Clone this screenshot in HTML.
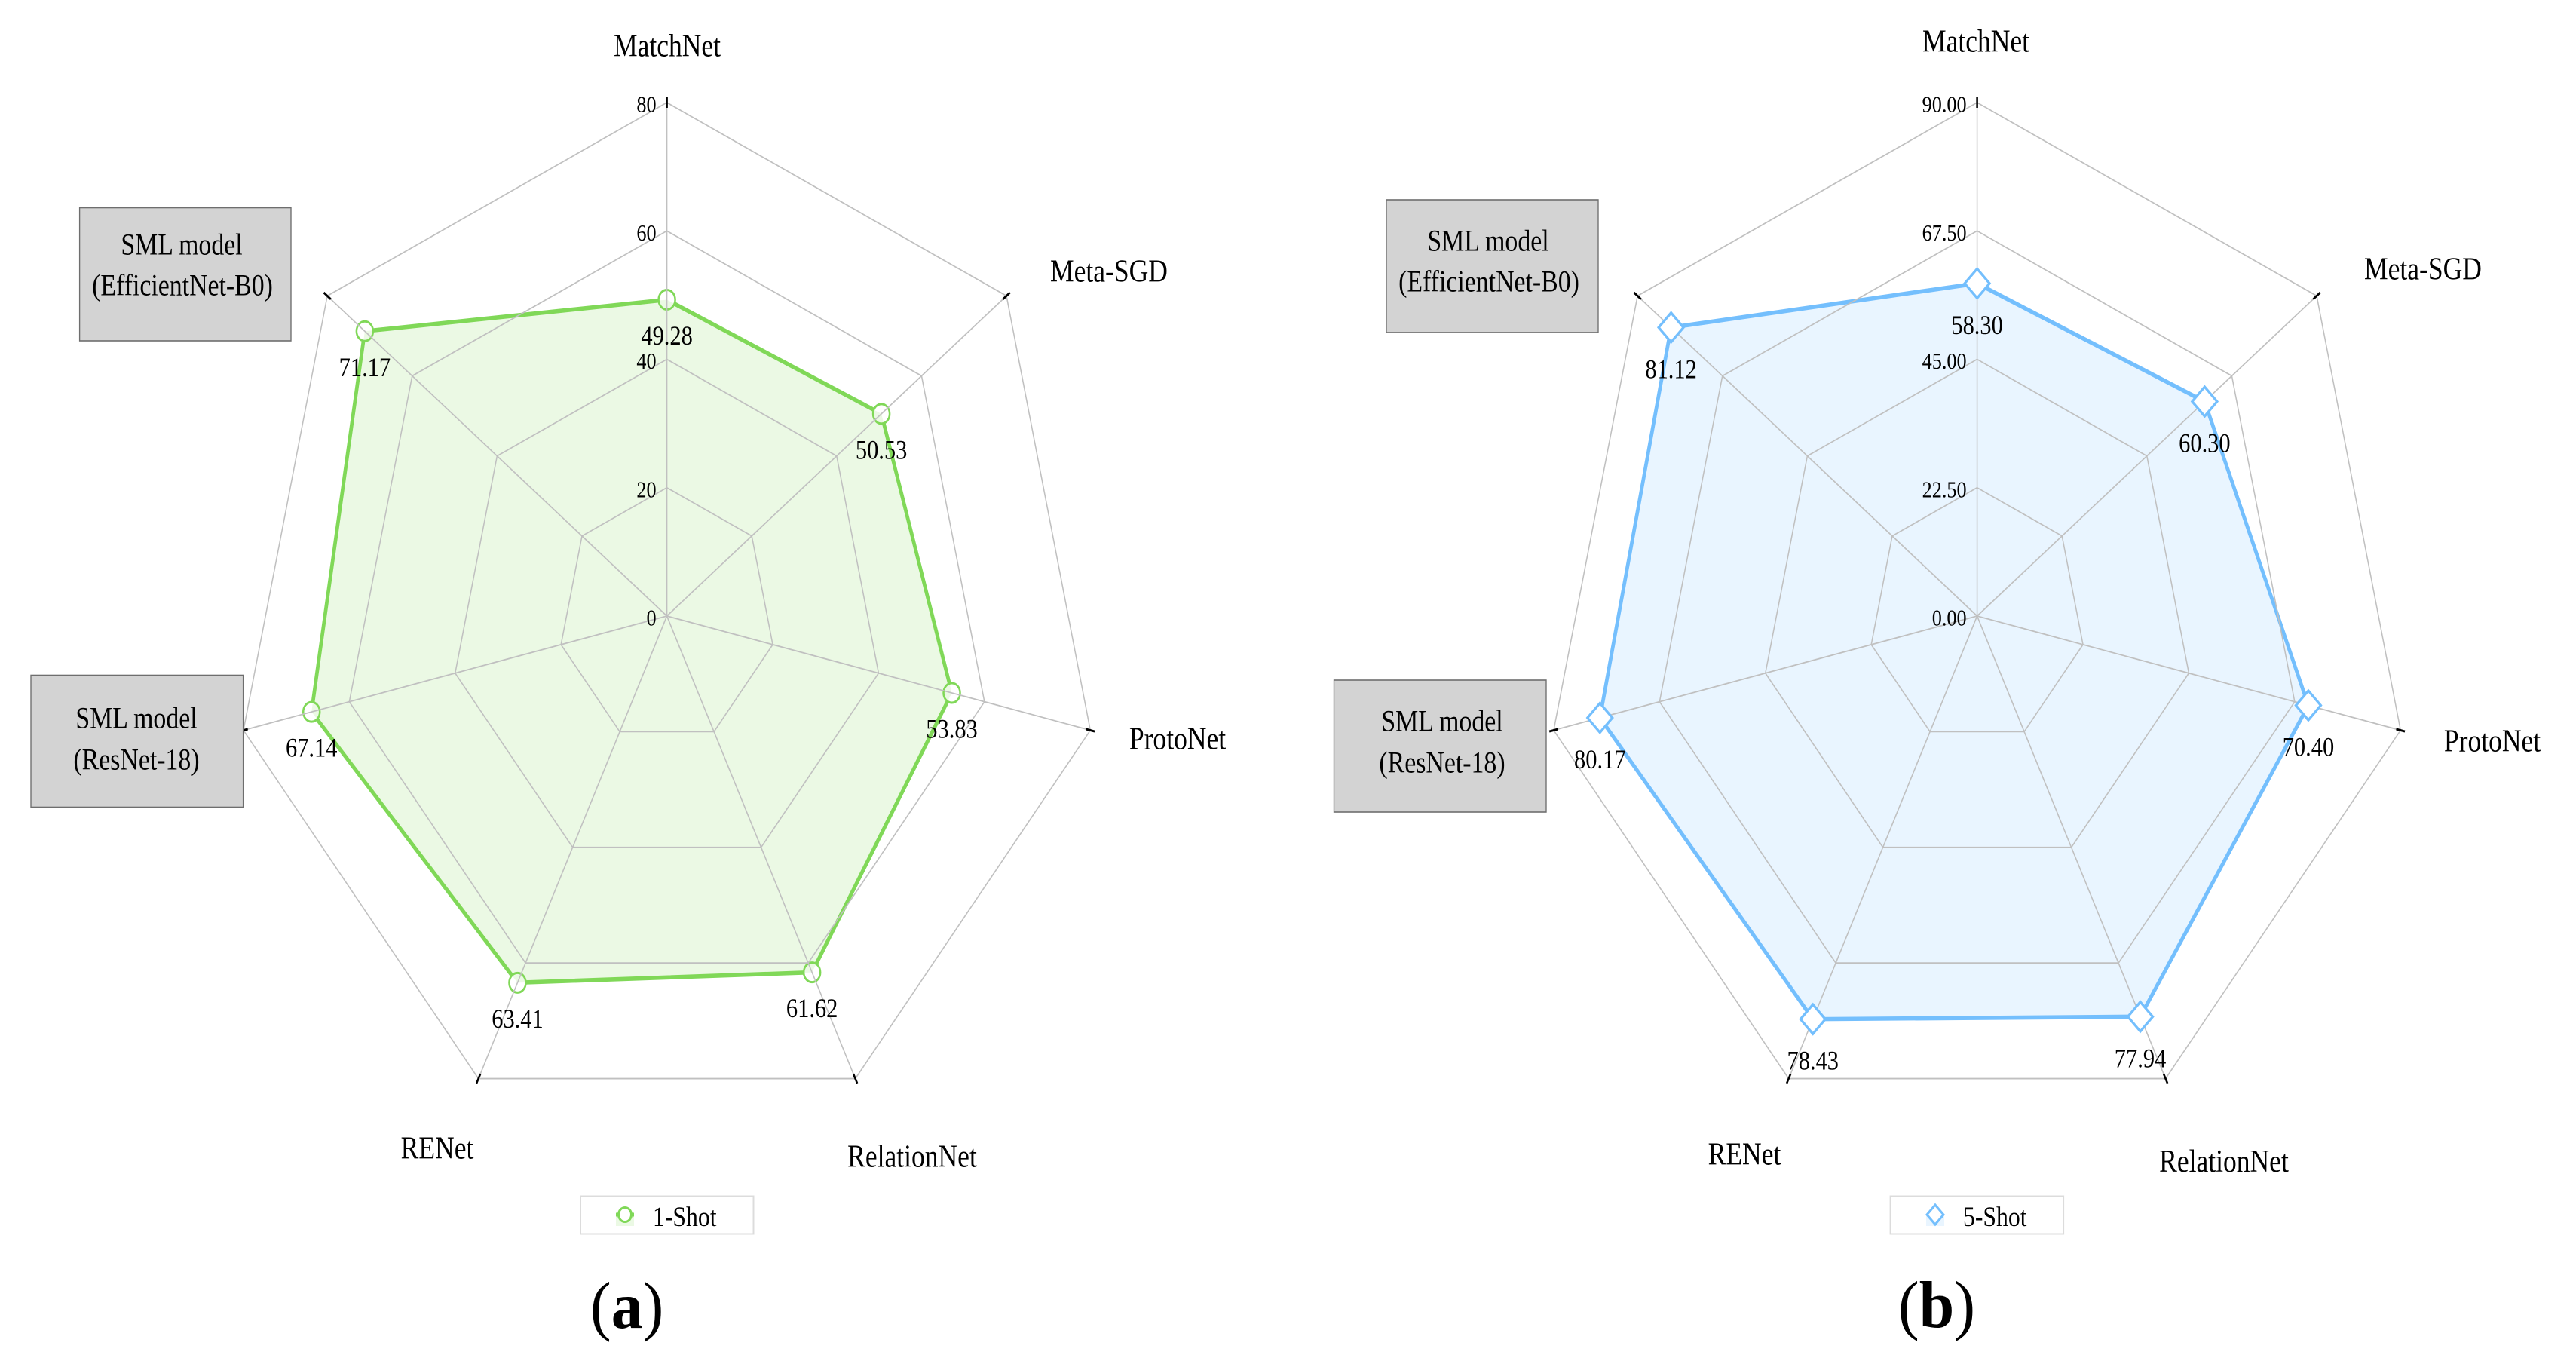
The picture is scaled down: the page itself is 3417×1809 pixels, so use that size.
<!DOCTYPE html>
<html lang="en">
<head>
<meta charset="utf-8">
<title>Radar charts: 1-Shot and 5-Shot accuracy</title>
<style>
html,body{margin:0;padding:0;background:#fff;}
svg{display:block;font-family:"Liberation Serif",serif;fill:#000;}
</style>
</head>
<body>
<svg id="figure" xmlns="http://www.w3.org/2000/svg" width="3417" height="1809" viewBox="0 0 3417 1809">
<rect x="0" y="0" width="3417" height="1809" fill="#fff"/>
</svg>
<script>
const categories = ['MatchNet', 'Meta-SGD', 'ProtoNet', 'RelationNet', 'RENet', 'SML model|(ResNet-18)', 'SML model|(EfficientNet-B0)'];
const oneShotValues = [49.28, 50.53, 53.83, 61.62, 63.41, 67.14, 71.17];
const fiveShotValues = [58.30, 60.30, 70.40, 77.94, 78.43, 80.17, 81.12];
const oneShotTicks = [0, 20, 40, 60, 80];
const fiveShotTicks = [0, 22.5, 45, 67.5, 90];
const oneShotTickLabels = ['0', '20', '40', '60', '80'];
const fiveShotTickLabels = ['0.00', '22.50', '45.00', '67.50', '90.00'];

const svg = document.getElementById('figure');
const NS = 'http://www.w3.org/2000/svg';
const RADIUS = 681;
const SQUEEZE = 0.846;

function make(parent, tag, attrs) {
  const el = document.createElementNS(NS, tag);
  for (const k in attrs) el.setAttribute(k, attrs[k]);
  parent.appendChild(el);
  return el;
}

function drawRadar(cfg) {
  const n = categories.length;
  const axisMax = cfg.ticks[cfg.ticks.length - 1];
  const rScale = v => (v / axisMax) * RADIUS;
  const axisX = (i, v) => rScale(v) * Math.sin(i * 2 * Math.PI / n);
  const axisY = (i, v) => -rScale(v) * Math.cos(i * 2 * Math.PI / n);
  const gx = x => (x - cfg.cx) / SQUEEZE;
  const gy = y => y - cfg.cy;
  const ringPoints = v => categories.map((c, i) => axisX(i, v).toFixed(2) + ',' + axisY(i, v).toFixed(2)).join(' ');

  const g = make(svg, 'g', {transform: 'translate(' + cfg.cx + ' ' + cfg.cy + ') scale(' + SQUEEZE + ' 1)'});
  
  

  const seriesPoints = cfg.values.map((v, i) => axisX(i, v).toFixed(2) + ',' + axisY(i, v).toFixed(2)).join(' ');

  const drawMarkers = () => {
    cfg.values.forEach((v, i) => {
      const x = axisX(i, v), y = axisY(i, v);
      let m;
      if (cfg.marker === 'circle') {
        m = make(g, 'circle', {cx: x, cy: y, r: 13, fill: '#fff', stroke: cfg.color, 'stroke-width': 3});
      } else {
        m = make(g, 'polygon', {
          points: x + ',' + (y - 19.5) + ' ' + (x + 19.5) + ',' + y + ' ' + x + ',' + (y + 19.5) + ' ' + (x - 19.5) + ',' + y,
          fill: '#fff', stroke: cfg.color, 'stroke-width': 3.6
        });
      }
      
      
    });
  };

  const line = make(g, 'polygon', {points: seriesPoints, fill: 'none', stroke: cfg.color, 'stroke-width': 5.6, 'stroke-linejoin': 'round'});
  
  

  if (!cfg.markerOnTop) drawMarkers();

  const area = make(g, 'polygon', {points: seriesPoints, fill: cfg.color, 'fill-opacity': 0.16, stroke: 'none'});
  
  

  cfg.ticks.slice(1).forEach((t, k) => {
    const ring = make(g, 'polygon', {points: ringPoints(t), fill: 'none', stroke: '#c0c0c0', 'stroke-width': 1.8});
    
    
  });

  categories.forEach((c, i) => {
    const spoke = make(g, 'line', {x1: 0, y1: 0, x2: axisX(i, axisMax), y2: axisY(i, axisMax), stroke: '#c0c0c0', 'stroke-width': 1.8});
    
    
    const inner = axisMax * (RADIUS - 7) / RADIUS;
    const outer = axisMax * (RADIUS + 7) / RADIUS;
    const tick = make(g, 'line', {x1: axisX(i, inner), y1: axisY(i, inner), x2: axisX(i, outer), y2: axisY(i, outer), stroke: '#000', 'stroke-width': 3});
    
    
  });

  if (cfg.markerOnTop) drawMarkers();

  cfg.ticks.forEach((t, k) => {
    const label = make(g, 'text', {x: -14 / SQUEEZE, y: axisY(0, t) + 12.5, 'text-anchor': 'end', 'font-size': 31});
    label.textContent = cfg.tickLabels[k];
    
    
  });

  cfg.values.forEach((v, i) => {
    const label = make(g, 'text', {x: axisX(i, v), y: axisY(i, v) + cfg.labelDrop + 12.5, 'text-anchor': 'middle', 'font-size': 36});
    label.textContent = v.toFixed(2);
    
    
  });

  cfg.boxes.forEach((b, k) => {
    const box = make(g, 'rect', {x: gx(b[0]), y: gy(b[1]), width: (b[2] - b[0]) / SQUEEZE, height: b[3] - b[1], fill: '#d3d3d3', stroke: '#6e6e6e', 'stroke-width': 1.6});
    
    
  });

  categories.forEach((c, i) => {
    const parts = c.split('|');
    parts.forEach((part, j) => {
      const at = cfg.labelAt[i][j];
      const label = make(g, 'text', {x: gx(at[0]), y: gy(at[1]) + 13.5, 'text-anchor': 'middle', 'font-size': parts.length > 1 ? 40 : 42});
      label.textContent = part;
      
      
    });
  });

  const legend = make(svg, 'g', {});
  
  
  make(legend, 'rect', {x: cfg.legend.x, y: 1586.5, width: 229.5, height: 50, fill: '#fff', stroke: '#dcdcdc', 'stroke-width': 2});
  const mx = cfg.legend.mx, my = 1611;
  make(legend, 'rect', {x: mx - 12, y: my, width: 24, height: 15, fill: cfg.color, 'fill-opacity': 0.16});
  let lm;
  if (cfg.marker === 'circle') {
    make(legend, 'line', {x1: mx - 12, y1: my, x2: mx + 12, y2: my, stroke: cfg.color, 'stroke-width': 5});
    lm = make(legend, 'ellipse', {cx: mx, cy: my, rx: 8.5, ry: 9.5, fill: '#fff', stroke: cfg.color, 'stroke-width': 3});
  } else {
    lm = make(legend, 'polygon', {points: mx + ',' + (my - 13) + ' ' + (mx + 11) + ',' + my + ' ' + mx + ',' + (my + 13) + ' ' + (mx - 11) + ',' + my, fill: '#fff', stroke: cfg.color, 'stroke-width': 3});
  }
  
  
  const lt = make(legend, 'text', {transform: 'translate(' + cfg.legend.tx + ' 1626) scale(' + SQUEEZE + ' 1)', 'font-size': 37.5});
  lt.textContent = cfg.name;
  
  

  const cap = make(svg, 'text', {transform: 'translate(' + cfg.caption.x + ' ' + cfg.caption.y + ') scale(0.95 1)', 'text-anchor': 'middle', 'font-size': 88});
  
  
  cap.appendChild(document.createTextNode('('));
  const bold = make(cap, 'tspan', {'font-weight': 'bold'});
  bold.textContent = cfg.caption.letter;
  cap.appendChild(document.createTextNode(')'));
}

drawRadar({
  key: 'one-shot', name: '1-Shot', cx: 884.6, cy: 817,
  values: oneShotValues, ticks: oneShotTicks, tickLabels: oneShotTickLabels,
  color: '#80d858', marker: 'circle', markerOnTop: false, labelDrop: 47,
  boxes: [[105.6, 275.5, 386, 452], [41, 895.5, 322.6, 1070.5]],
  labelAt: [[[885, 61]], [[1471, 360]], [[1562, 980]], [[1210, 1534]], [[580, 1523]],
            [[181, 952], [181, 1007]], [[241, 324], [242, 378]]],
  legend: {x: 770, mx: 829, tx: 866},
  caption: {x: 831.6, y: 1761, letter: 'a'}
});

drawRadar({
  key: 'five-shot', name: '5-Shot', cx: 2622.6, cy: 817,
  values: fiveShotValues, ticks: fiveShotTicks, tickLabels: fiveShotTickLabels,
  color: '#74bffd', marker: 'diamond', markerOnTop: true, labelDrop: 54.5,
  boxes: [[1839, 265, 2120, 441], [1769.5, 902, 2051, 1077]],
  labelAt: [[[2621, 55]], [[3214, 357]], [[3306, 983]], [[2950, 1540.5]], [[2314, 1531]],
            [[1913, 956], [1913, 1011]], [[1974, 319], [1975, 373]]],
  legend: {x: 2507.6, mx: 2567, tx: 2604},
  caption: {x: 2569, y: 1760, letter: 'b'}
});
</script>
</body>
</html>
